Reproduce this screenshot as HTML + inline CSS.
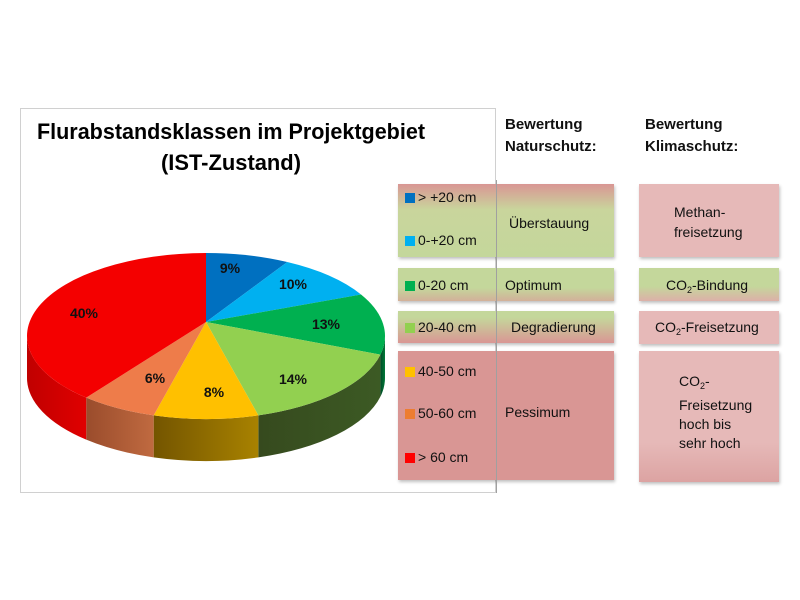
<!DOCTYPE html>
<html><head><meta charset="utf-8">
<style>
body{margin:0;width:800px;height:600px;background:#fff;overflow:hidden;position:relative;font-family:"Liberation Sans Narrow","Liberation Sans",sans-serif}
.a{position:absolute}
.box{position:absolute;box-shadow:1px 2px 3px rgba(0,0,0,0.25)}
.t{position:absolute;font-size:14px;color:#111;white-space:nowrap;font-family:"Liberation Sans",sans-serif}
.sq{position:absolute;width:10px;height:10px}
.h{position:absolute;font-weight:bold;font-size:15px;line-height:22px;color:#111}
sub{font-size:9px;vertical-align:-3px}
</style></head><body>
<div class="a" style="left:20px;top:108px;width:476px;height:385px;border:1px solid #d0d0d0;box-sizing:border-box"></div>
<svg class="a" style="left:0;top:0" width="800" height="600" id="pie">
<text x="231" y="139" text-anchor="middle" font-family="Liberation Sans Narrow, Liberation Sans, sans-serif" font-weight="bold" font-size="22" textLength="388" lengthAdjust="spacingAndGlyphs">Flurabstandsklassen im Projektgebiet</text>
<text x="231" y="170" text-anchor="middle" font-family="Liberation Sans Narrow, Liberation Sans, sans-serif" font-weight="bold" font-size="22" textLength="140" lengthAdjust="spacingAndGlyphs">(IST-Zustand)</text>
</svg>
<div class="h" style="left:505px;top:114px">Bewertung<br>Naturschutz:</div>
<div class="h" style="left:645px;top:114px">Bewertung<br>Klimaschutz:</div>

<div class="box" style="left:398px;top:184px;width:216px;height:73px;background:linear-gradient(#d99694 0%,#c9d59c 35%,#c4d79b 100%)"></div>
<div class="box" style="left:398px;top:268px;width:216px;height:33px;background:linear-gradient(#c4d79b 60%,#d2b09a 100%)"></div>
<div class="box" style="left:398px;top:311px;width:216px;height:32px;background:linear-gradient(#c4d79b 20%,#d99694 100%)"></div>
<div class="box" style="left:398px;top:351px;width:216px;height:129px;background:#d99694"></div>
<div class="box" style="left:639px;top:184px;width:140px;height:73px;background:#e6b9b8"></div>
<div class="box" style="left:639px;top:268px;width:140px;height:33px;background:linear-gradient(#c4d79b 55%,#dcb0a8 100%)"></div>
<div class="box" style="left:639px;top:311px;width:140px;height:33px;background:#e6b9b8"></div>
<div class="box" style="left:639px;top:351px;width:140px;height:131px;background:linear-gradient(#e6b9b8 70%,#dca3a2 100%)"></div>
<div class="a" style="left:496px;top:180px;width:1px;height:313px;background:#a0a0a0"></div>

<div class="sq" style="left:405px;top:193px;background:#0070c0"></div><div class="t" style="left:418px;top:189px">&gt; +20 cm</div>
<div class="sq" style="left:405px;top:236px;background:#00b0f0"></div><div class="t" style="left:418px;top:232px">0-+20 cm</div>
<div class="sq" style="left:405px;top:281px;background:#00b050"></div><div class="t" style="left:418px;top:277px">0-20 cm</div>
<div class="sq" style="left:405px;top:323px;background:#92d050"></div><div class="t" style="left:418px;top:319px">20-40 cm</div>
<div class="sq" style="left:405px;top:367px;background:#ffc000"></div><div class="t" style="left:418px;top:363px">40-50 cm</div>
<div class="sq" style="left:405px;top:409px;background:#ed7d31"></div><div class="t" style="left:418px;top:405px">50-60 cm</div>
<div class="sq" style="left:405px;top:453px;background:#ff0000"></div><div class="t" style="left:418px;top:449px">&gt; 60 cm</div>

<div class="t" style="left:509px;top:215px">Überstauung</div>
<div class="t" style="left:505px;top:277px">Optimum</div>
<div class="t" style="left:511px;top:319px">Degradierung</div>
<div class="t" style="left:505px;top:404px">Pessimum</div>

<div class="t" style="left:674px;top:202px;line-height:20px">Methan-<br>freisetzung</div>
<div class="t" style="left:666px;top:277px">CO<sub>2</sub>-Bindung</div>
<div class="t" style="left:655px;top:319px">CO<sub>2</sub>-Freisetzung</div>
<div class="t" style="left:679px;top:372px;line-height:19px">CO<sub>2</sub>-<br>Freisetzung<br>hoch bis<br>sehr hoch</div>

<script>
(function(){
var svg=document.getElementById('pie'),NS='http://www.w3.org/2000/svg';
var cx=206,cy=336,rx=179,ry=83,h=42,ax=206,ay=322;
var b=[0,27,60,103,163,197,222,360];
var top=['#0070c0','#00b0f0','#00b050','#92d050','#ffc000','#ee7c4a','#f40000'];
var side=[['#004f88','#004f88'],['#0080b0','#0080b0'],['#007a38','#004a25'],['#3c5a24','#364a1e'],['#a88200','#745500'],['#c06a40','#9a4c2c'],['#e00000','#c00000']];
function P(t,dy){t=t*Math.PI/180;return [cx+rx*Math.sin(t),cy-ry*Math.cos(t)+(dy||0)];}
function el(n,a){var e=document.createElementNS(NS,n);for(var k in a)e.setAttribute(k,a[k]);svg.appendChild(e);return e;}
var defs=el('defs',{});
for(var i=0;i<7;i++){
 var s=Math.max(b[i],90),e=Math.min(b[i+1],270);
 if(e<=s)continue;
 var g=document.createElementNS(NS,'linearGradient');g.setAttribute('id','g'+i);
 var p1=P(s),p2=P(e);
 g.setAttribute('gradientUnits','userSpaceOnUse');g.setAttribute('x1',p1[0]);g.setAttribute('x2',p2[0]);g.setAttribute('y1',0);g.setAttribute('y2',0);
 g.innerHTML='<stop offset="0" stop-color="'+side[i][0]+'"/><stop offset="1" stop-color="'+side[i][1]+'"/>';
 defs.appendChild(g);
 var q1=P(s,h),q2=P(e,h);
 var d='M'+p1+' A'+rx+' '+ry+' 0 0 1 '+p2+' L'+q2+' A'+rx+' '+ry+' 0 0 0 '+q1+' Z';
 el('path',{d:d,fill:'url(#g'+i+')'});
}
for(var i=0;i<7;i++){
 var p1=P(b[i]),p2=P(b[i+1]),large=(b[i+1]-b[i])>180?1:0;
 el('path',{d:'M'+ax+','+ay+' L'+p1+' A'+rx+' '+ry+' 0 '+large+' 1 '+p2+' Z',fill:top[i]});
}
var L=[['9%',230,268],['10%',293,284],['13%',326,324],['14%',293,379],['8%',214,392],['6%',155,378],['40%',84,313]];
L.forEach(function(l){var t=el('text',{x:l[1],y:l[2]+5,'text-anchor':'middle','font-family':'Liberation Sans, sans-serif','font-weight':'bold','font-size':'14',fill:'#111'});t.textContent=l[0];});
})();
</script>
</body></html>
